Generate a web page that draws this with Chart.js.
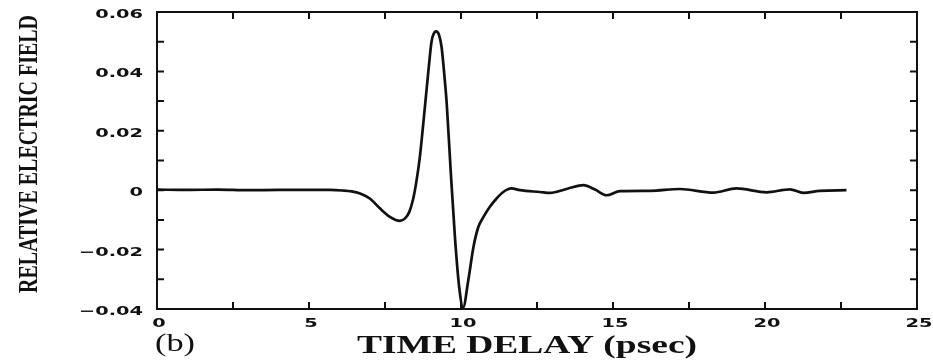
<!DOCTYPE html>
<html>
<head>
<meta charset="utf-8">
<script src="https://cdn.jsdelivr.net/npm/chart.js@4/dist/chart.umd.min.js"></script>
<style>
  html, body { margin: 0; padding: 0; background: #ffffff; }
  #wrap { position: relative; width: 933px; height: 361px; }
</style>
</head>
<body>
<div id="wrap"><canvas id="c"></canvas></div>
<script>
// ---- data ----
const timeDelay = [0, 1, 2, 3, 4, 5, 5.7, 6.1, 6.4, 6.68, 7.0, 7.34, 7.66, 7.85, 7.99, 8.16, 8.3, 8.43, 8.54, 8.65, 8.76, 8.85, 8.93, 9.03, 9.1, 9.18, 9.27, 9.36, 9.45, 9.53, 9.66, 9.8, 9.94, 10.07, 10.24, 10.41, 10.57, 10.74, 10.95, 11.17, 11.39, 11.66, 11.94, 12.6, 12.93, 13.5, 14.03, 14.41, 14.79, 15.23, 16.22, 17.2, 18.3, 19.06, 20.05, 20.82, 21.26, 21.8, 22.68];
const relField = [0.0002, 0.0001, 0.0002, 0.0000, 0.0001, 0.0001, 0.0001, -0.0001, -0.0004, -0.0011, -0.0028, -0.0062, -0.0090, -0.0100, -0.0103, -0.0095, -0.0073, -0.0028, 0.0034, 0.0115, 0.0225, 0.0320, 0.0404, 0.0500, 0.0526, 0.0535, 0.0525, 0.0483, 0.0390, 0.0292, 0.0067, -0.0157, -0.0326, -0.0395, -0.0303, -0.0191, -0.0124, -0.0090, -0.0056, -0.0028, -0.0006, 0.0006, 0.0000, -0.0006, -0.0009, 0.0005, 0.0017, 0.0002, -0.0017, -0.0003, -0.0002, 0.0004, -0.0008, 0.0006, -0.0007, 0.0003, -0.0009, -0.0002, 0.0000];
const xTickLabels = ['0', '', '5', '', '10', '', '15', '', '20', '', '25'];
const yTickLabels = ['\u22120.04', '', '\u22120.02', '', '0', '', '0.02', '', '0.04', '', '0.06'];
const xTitle = 'TIME DELAY (psec)';
const yTitle = 'RELATIVE ELECTRIC FIELD';
const panelLabel = '(b)';

const points = timeDelay.map((t, i) => ({ x: t, y: relField[i] }));

function drawStretched(ctx, text, x, y, font, targetW, align, rotate) {
  ctx.save();
  ctx.font = font;
  const w = ctx.measureText(text).width;
  ctx.translate(x, y);
  if (rotate) ctx.rotate(-Math.PI / 2);
  ctx.scale(targetW / w, 1);
  ctx.textAlign = align;
  ctx.textBaseline = 'alphabetic';
  ctx.fillStyle = '#111';
  ctx.fillText(text, 0, 0);
  ctx.restore();
}

function drawWide(ctx, text, x, y, font, sx, align) {
  if (!text) return;
  ctx.save();
  ctx.font = font;
  ctx.translate(x, y);
  ctx.scale(sx, 1);
  ctx.textAlign = align;
  ctx.textBaseline = 'alphabetic';
  ctx.fillStyle = '#111';
  ctx.fillText(text, 0, 0);
  ctx.restore();
}

const TICK_FONT = 'bold 12.5px "DejaVu Sans"';
const TICK_SX = 1.55;

const framePlugin = {
  id: 'frame',
  beforeDatasetsDraw(chart) {
    const { ctx, chartArea: a, scales } = chart;
    ctx.save();
    ctx.strokeStyle = '#111';
    ctx.lineWidth = 2;
    ctx.strokeRect(a.left, a.top, a.right - a.left, a.bottom - a.top);
    const len = 7;
    ctx.beginPath();
    scales.x.ticks.forEach(t => {
      const px = scales.x.getPixelForValue(t.value);
      if (px <= a.left + 1 || px >= a.right - 1) return;
      ctx.moveTo(px, a.bottom); ctx.lineTo(px, a.bottom - len);
      ctx.moveTo(px, a.top); ctx.lineTo(px, a.top + len);
    });
    scales.y.ticks.forEach(t => {
      const py = scales.y.getPixelForValue(t.value);
      if (py <= a.top + 1 || py >= a.bottom - 1) return;
      ctx.moveTo(a.left, py); ctx.lineTo(a.left + len, py);
      ctx.moveTo(a.right, py); ctx.lineTo(a.right - len, py);
    });
    ctx.stroke();
    ctx.restore();
  },
  afterDraw(chart) {
    const { ctx, chartArea: a, scales } = chart;
    scales.x.ticks.forEach((t, i) => {
      const px = scales.x.getPixelForValue(t.value);
      drawWide(ctx, xTickLabels[i], px + 2, a.bottom + 18, TICK_FONT, TICK_SX, 'center');
    });
    scales.y.ticks.forEach((t, i) => {
      const py = scales.y.getPixelForValue(t.value);
      drawWide(ctx, yTickLabels[i], a.left - 14, py + 6, TICK_FONT, TICK_SX, 'right');
    });
    drawStretched(ctx, yTitle, 37, 154, 'bold 28px "Liberation Serif"', 278, 'center', true);
    drawStretched(ctx, xTitle, 527, 353, 'bold 25px "Liberation Serif"', 340, 'center', false);
    drawStretched(ctx, panelLabel, 155, 351, '25px "Liberation Serif"', 40, 'left', false);
  }
};

new Chart(document.getElementById('c'), {
  type: 'line',
  data: {
    datasets: [{
      data: points,
      borderColor: '#111',
      borderWidth: 2.7,
      pointRadius: 0,
      fill: false,
      cubicInterpolationMode: 'monotone'
    }]
  },
  options: {
    responsive: true,
    maintainAspectRatio: false,
    animation: false,
    layout: { padding: { left: 0, top: 12, right: 16, bottom: 0 } },
    plugins: { legend: { display: false }, tooltip: { enabled: false } },
    scales: {
      x: {
        type: 'linear',
        min: 0, max: 25,
        grid: { display: false, drawTicks: false },
        border: { display: false },
        ticks: { display: false, stepSize: 2.5, autoSkip: false, maxRotation: 0 },
        afterFit: s => { s.height = 52; }
      },
      y: {
        type: 'linear',
        min: -0.04, max: 0.06,
        grid: { display: false, drawTicks: false },
        border: { display: false },
        ticks: { display: false, stepSize: 0.01, autoSkip: false },
        afterFit: s => { s.width = 157; }
      }
    }
  },
  plugins: [framePlugin]
});
</script>
</body>
</html>
